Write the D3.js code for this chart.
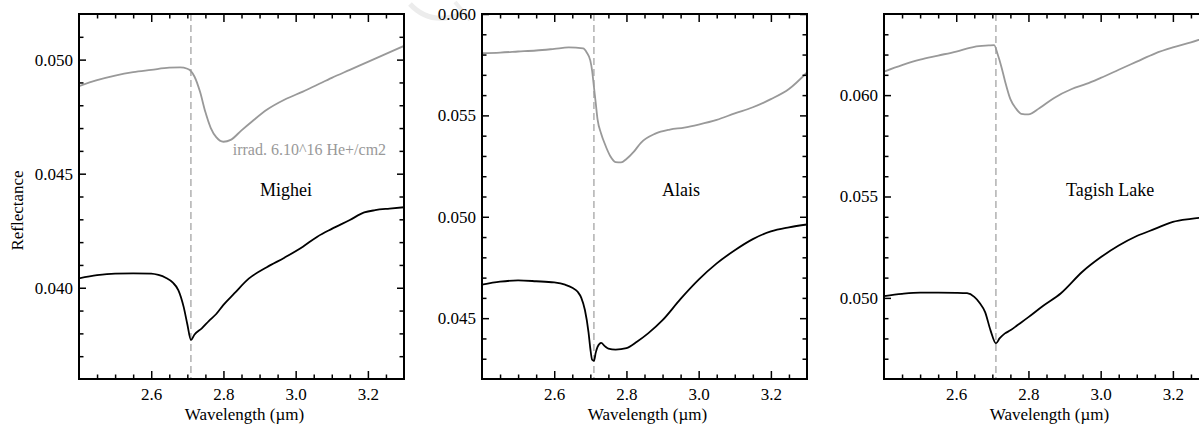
<!DOCTYPE html>
<html>
<head>
<meta charset="utf-8">
<script src="https://cdn.jsdelivr.net/npm/d3@7"></script>
<style>
  html, body { margin: 0; padding: 0; background: #fff; }
  svg { display: block; }
  text { font-family: "Liberation Serif", "Times New Roman", serif; }
</style>
</head>
<body>
<svg id="chart" width="1199" height="424"></svg>
<script>
// ---------- data ----------
const sampleNames = ["Mighei", "Alais", "Tagish Lake"];
const annotationText = "irrad. 6.10^16 He+/cm2";
const xTickLabels = [2.6, 2.8, 3.0, 3.2];
const bandCenter = 2.71;

// Mighei
const mighei_irr_x = [2.40,2.45,2.50,2.55,2.60,2.65,2.68,2.70,2.71,2.72,2.735,2.75,2.765,2.78,2.80,2.82,2.85,2.88,2.92,2.97,3.02,3.06,3.10,3.15,3.20,3.25,3.30];
const mighei_irr_y = [.04884,.04910,.04930,.04945,.04955,.04965,.04966,.04960,.04950,.04925,.04860,.04770,.04700,.04660,.04640,.04648,.04690,.04730,.04780,.04825,.04860,.04890,.04920,.04955,.04990,.05025,.05060];
const mighei_raw_x = [2.40,2.45,2.50,2.55,2.60,2.62,2.64,2.66,2.675,2.69,2.70,2.71,2.72,2.74,2.76,2.78,2.80,2.83,2.87,2.92,2.97,3.02,3.06,3.10,3.15,3.19,3.22,3.26,3.30];
const mighei_raw_y = [.04041,.04055,.04062,.04063,.04062,.04056,.04044,.04022,.03990,.03915,.03840,.03771,.03795,.03822,.03855,.03885,.03925,.03975,.04040,.04090,.04133,.04180,.04224,.04258,.04297,.04330,.04340,.04347,.04353];

// Alais
const alais_irr_x = [2.40,2.45,2.50,2.55,2.60,2.64,2.68,2.69,2.70,2.705,2.71,2.715,2.72,2.73,2.74,2.755,2.77,2.785,2.80,2.82,2.84,2.88,2.92,2.96,3.00,3.05,3.10,3.15,3.20,3.25,3.30];
const alais_irr_y = [.05807,.05810,.05815,.05820,.05828,.05835,.05830,.05810,.05770,.05720,.05640,.05560,.05480,.05410,.05360,.05300,.05270,.05268,.05285,.05320,.05365,.05410,.05430,.05440,.05455,.05478,.05510,.05540,.05580,.05630,.05712];
const alais_raw_x = [2.40,2.45,2.50,2.55,2.60,2.63,2.65,2.665,2.675,2.685,2.695,2.70,2.705,2.71,2.715,2.72,2.73,2.74,2.75,2.77,2.80,2.83,2.86,2.90,2.95,3.00,3.05,3.10,3.15,3.20,3.25,3.30];
const alais_raw_y = [.04665,.04680,.04686,.04682,.04676,.04665,.04650,.04630,.04600,.04540,.04430,.04350,.04295,.04290,.04330,.04358,.04378,.04362,.04350,.04345,.04352,.04385,.04425,.04490,.04595,.04690,.04770,.04835,.04890,.04928,.04948,.04962];

// Tagish Lake
const tagish_irr_x = [2.40,2.45,2.50,2.55,2.60,2.65,2.69,2.705,2.715,2.725,2.735,2.75,2.765,2.78,2.80,2.83,2.87,2.92,2.96,3.00,3.05,3.10,3.15,3.20,3.25,3.30];
const tagish_irr_y = [.06116,.06148,.06175,.06195,.06215,.06238,.06245,.06247,.06200,.06140,.06070,.05980,.05935,.05908,.05905,.05935,.05985,.06030,.06055,.06085,.06125,.06165,.06205,.06235,.06260,.06290];
const tagish_raw_x = [2.40,2.45,2.50,2.55,2.60,2.63,2.65,2.665,2.68,2.695,2.71,2.72,2.735,2.75,2.77,2.80,2.84,2.89,2.95,3.00,3.05,3.10,3.15,3.20,3.25,3.30];
const tagish_raw_y = [.05009,.05020,.05026,.05026,.05025,.05023,.05005,.04975,.04930,.04840,.04776,.04800,.04825,.04840,.04866,.04905,.04960,.05023,.05130,.05200,.05258,.05305,.05340,.05375,.05390,.05400];

const yDomains = [[0.036, 0.052], [0.042, 0.060], [0.046, 0.064]];
const yTickLabels = [[0.040, 0.045, 0.050], [0.045, 0.050, 0.055, 0.060], [0.050, 0.055, 0.060]];

const panelsData = [
  {name: sampleNames[0], irrX: mighei_irr_x, irrY: mighei_irr_y, rawX: mighei_raw_x, rawY: mighei_raw_y},
  {name: sampleNames[1], irrX: alais_irr_x, irrY: alais_irr_y, rawX: alais_raw_x, rawY: alais_raw_y},
  {name: sampleNames[2], irrX: tagish_irr_x, irrY: tagish_irr_y, rawX: tagish_raw_x, rawY: tagish_raw_y}
];

// ---------- layout ----------
const panelLeft = [79, 482, 884];
const panelW = 325, panelTop = 14, panelH = 365;
const svg = d3.select("#chart");

// faint watermark strokes at top (decorative)
svg.append("path").attr("d", "M410,4 Q430,26 462,14").attr("fill","none").attr("stroke","#ececec").attr("stroke-width",5);
svg.append("path").attr("d", "M455,2 L470,20").attr("fill","none").attr("stroke","#efefef").attr("stroke-width",4);

panelsData.forEach((p, i) => {
  const g = svg.append("g").attr("transform", `translate(${panelLeft[i]},${panelTop})`);
  const x = d3.scaleLinear().domain([2.4, 3.3]).range([0, panelW]);
  const y = d3.scaleLinear().domain(yDomains[i]).range([panelH, 0]);

  const clipId = "clip" + i;
  g.append("clipPath").attr("id", clipId).append("rect").attr("width", panelW).attr("height", panelH);

  // dashed vertical line
  g.append("line")
    .attr("x1", x(bandCenter)).attr("x2", x(bandCenter))
    .attr("y1", 0).attr("y2", panelH)
    .attr("stroke", "#888").attr("stroke-width", 1).attr("stroke-dasharray", "7,4");

  const line = d3.line().x(d => x(d[0])).y(d => y(d[1])).curve(d3.curveMonotoneX);
  const irr = p.irrX.map((v, k) => [v, p.irrY[k]]);
  const raw = p.rawX.map((v, k) => [v, p.rawY[k]]);
  g.append("path").datum(irr).attr("d", line).attr("fill", "none")
    .attr("stroke", "#999").attr("stroke-width", 1.8).attr("clip-path", `url(#${clipId})`);
  g.append("path").datum(raw).attr("d", line).attr("fill", "none")
    .attr("stroke", "#000").attr("stroke-width", 1.8).attr("clip-path", `url(#${clipId})`);

  // ticks
  const xMinor = d3.range(2.45, 3.3, 0.05).filter(v => !xTickLabels.some(t => Math.abs(t - v) < 1e-6));
  const yd = yDomains[i];
  const yMinor = d3.range(Math.round(yd[0]*1000)+1, Math.round(yd[1]*1000)).map(v => v/1000)
                   .filter(v => !yTickLabels[i].some(t => Math.abs(t - v) < 1e-7));

  const axB = d3.axisBottom(x).tickValues(xTickLabels).tickSize(-8).tickFormat(d3.format(".1f")).tickPadding(9);
  const axBm = d3.axisBottom(x).tickValues(xMinor).tickSize(-4.5).tickFormat("");
  const axT = d3.axisTop(x).tickValues(xTickLabels).tickSize(-8).tickFormat("");
  const axTm = d3.axisTop(x).tickValues(xMinor).tickSize(-4.5).tickFormat("");
  const axL = d3.axisLeft(y).tickValues(yTickLabels[i]).tickSize(-7).tickFormat(d3.format(".3f")).tickPadding(6);
  const axLm = d3.axisLeft(y).tickValues(yMinor).tickSize(-4.5).tickFormat("");
  const axR = d3.axisRight(y).tickValues(yTickLabels[i]).tickSize(-7).tickFormat("");
  const axRm = d3.axisRight(y).tickValues(yMinor).tickSize(-4.5).tickFormat("");

  const mk = (ax, tr) => {
    const a = g.append("g").attr("transform", tr).call(ax);
    a.attr("font-family", null).attr("font-size", null);
    a.select(".domain").remove();
    a.selectAll("line").attr("stroke", "#000").attr("stroke-width", 1.5);
    a.selectAll("text").attr("fill", "#000").style("font-size", "17px").style("font-family", '"Liberation Serif", serif');
    return a;
  };
  mk(axB, `translate(0,${panelH})`);
  mk(axBm, `translate(0,${panelH})`);
  mk(axT, `translate(0,0)`);
  mk(axTm, `translate(0,0)`);
  mk(axL, `translate(0,0)`);
  mk(axLm, `translate(0,0)`);
  mk(axR, `translate(${panelW},0)`);
  mk(axRm, `translate(${panelW},0)`);

  // frame
  g.append("rect").attr("width", panelW).attr("height", panelH)
    .attr("fill", "none").attr("stroke", "#000").attr("stroke-width", 2);

  // x label
  g.append("text").attr("x", panelW / 2 + 3).attr("y", panelH + 41)
    .attr("text-anchor", "middle").style("font-size", "17px").text("Wavelength (\u00b5m)");

  // sample name
  const nameX = [2.973, 2.951, 3.026][i];
  g.append("text").attr("x", x(nameX)).attr("y", 182)
    .attr("text-anchor", "middle").style("font-size", "18px").text(p.name);

  if (i === 0) {
    g.append("text").attr("x", x(3.038)).attr("y", 141)
      .attr("text-anchor", "middle").attr("fill", "#999").style("font-size", "16px").text(annotationText);
    g.append("text").attr("transform", `translate(-56,${panelH/2 + 14}) rotate(-90)`)
      .attr("text-anchor", "middle").style("font-size", "17px").text("Reflectance");
  }
});
</script>
</body>
</html>
